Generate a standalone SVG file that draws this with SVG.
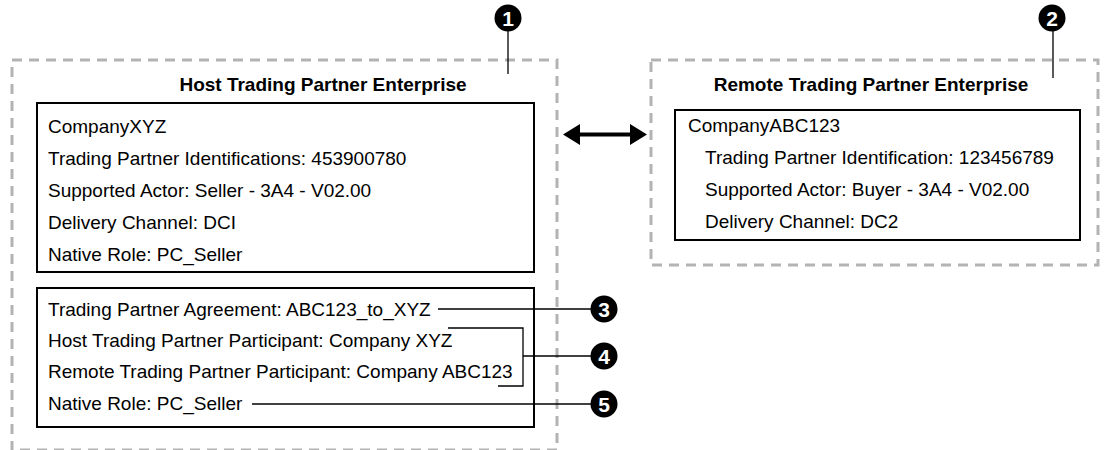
<svg xmlns="http://www.w3.org/2000/svg" width="1109" height="450" viewBox="0 0 1109 450">
<defs>
<style>
.dash{fill:none;stroke:#b3b3b3;stroke-width:3;stroke-dasharray:10 7}
.box{fill:#fff;stroke:#000;stroke-width:2}
.t{font-family:"Liberation Sans",Arial,sans-serif;font-size:19px;fill:#000}
.h{font-family:"Liberation Sans",Arial,sans-serif;font-size:19px;font-weight:bold;fill:#000;text-anchor:middle}
.ln{fill:none;stroke:#000;stroke-width:1.3}
.cn{font-family:"Liberation Sans",Arial,sans-serif;font-size:21px;font-weight:bold;fill:#fff;text-anchor:middle}
</style>
</defs>
<rect width="1109" height="450" fill="#fff"/>
<g id="host">
<rect class="dash" x="12" y="60" width="545" height="390"/>
<text class="h" x="323" y="91">Host Trading Partner Enterprise</text>
<rect class="box" x="37" y="103" width="497" height="169"/>
<text class="t" x="48" y="132.5">CompanyXYZ</text>
<text class="t" x="48" y="164.5">Trading Partner Identifications: 453900780</text>
<text class="t" x="48" y="196.5">Supported Actor: Seller - 3A4 - V02.00</text>
<text class="t" x="48" y="228.5">Delivery Channel: DCI</text>
<text class="t" x="48" y="260.5">Native Role: PC_Seller</text>
<rect class="box" x="37" y="288" width="497" height="139"/>
<text class="t" x="48" y="316">Trading Partner Agreement: ABC123_to_XYZ</text>
<text class="t" x="48" y="347">Host Trading Partner Participant: Company XYZ</text>
<text class="t" x="48" y="378">Remote Trading Partner Participant: Company ABC123</text>
<text class="t" x="48" y="410">Native Role: PC_Seller</text>
</g>
<g id="remote">
<rect class="dash" x="651" y="60" width="447" height="205"/>
<text class="h" x="871" y="91">Remote Trading Partner Enterprise</text>
<rect class="box" x="675" y="110" width="405" height="130"/>
<text class="t" x="688" y="132">CompanyABC123</text>
<text class="t" x="705" y="164">Trading Partner Identification: 123456789</text>
<text class="t" x="705" y="196">Supported Actor: Buyer - 3A4 - V02.00</text>
<text class="t" x="705" y="228">Delivery Channel: DC2</text>
</g>
<g id="connectors">
<path d="M563,134.5 L580,124 L580,145 z M647,134.5 L630,124 L630,145 z" fill="#000"/>
<line x1="578" y1="134.5" x2="632" y2="134.5" stroke="#000" stroke-width="4"/>
<line class="ln" x1="508" y1="30" x2="508" y2="74"/>
<line class="ln" x1="1053" y1="30" x2="1053" y2="78"/>
<line class="ln" x1="438" y1="309" x2="592" y2="309"/>
<polyline class="ln" points="448,328 523,328 523,386 498,386"/>
<line class="ln" x1="523" y1="356" x2="592" y2="356"/>
<line class="ln" x1="252" y1="404" x2="592" y2="404"/>
</g>
<g id="c1"><circle cx="508" cy="18" r="13.5"/><text class="cn" x="508" y="25.5">1</text></g>
<g id="c2"><circle cx="1052" cy="18" r="13.5"/><text class="cn" x="1052" y="25.5">2</text></g>
<g id="c3"><circle cx="604" cy="309" r="13.5"/><text class="cn" x="604" y="316.5">3</text></g>
<g id="c4"><circle cx="604" cy="356" r="13.5"/><text class="cn" x="604" y="363.5">4</text></g>
<g id="c5"><circle cx="604" cy="404" r="13.5"/><text class="cn" x="604" y="411.5">5</text></g>
</svg>
